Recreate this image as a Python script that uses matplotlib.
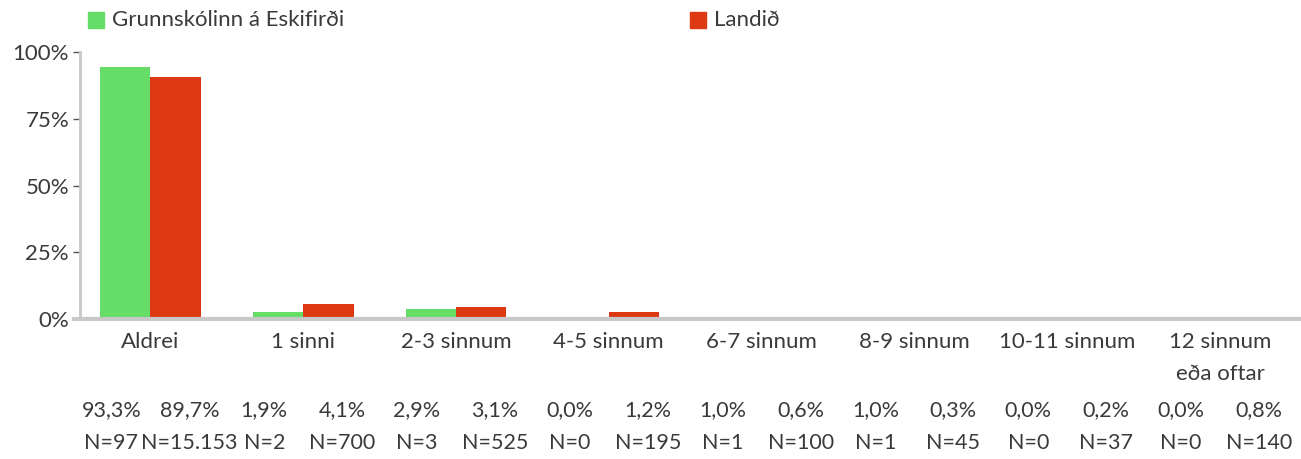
import matplotlib.pyplot as plt
import numpy as np

# flokkar og gildi
categories = ['Aldrei', '1 sinni', '2-3 sinnum', '4-5 sinnum', '6-7 sinnum',
              '8-9 sinnum', '10-11 sinnum', '12 sinnum\neða oftar']
series_names = ['Grunnskólinn á Eskifirði', 'Landið']

# hæð súlna eins og þær sjást á myndinni
school_bars = [94.4, 2.8, 3.7, 0.0, 0.0, 0.0, 0.0, 0.0]
country_bars = [90.6, 5.6, 4.5, 2.5, 0.0, 0.0, 0.0, 0.0]

# texti undir myndinni
school_pct = ['93,3%', '1,9%', '2,9%', '0,0%', '1,0%', '1,0%', '0,0%', '0,0%']
country_pct = ['89,7%', '4,1%', '3,1%', '1,2%', '0,6%', '0,3%', '0,2%', '0,8%']
school_n = ['N=97', 'N=2', 'N=3', 'N=0', 'N=1', 'N=1', 'N=0', 'N=0']
country_n = ['N=15.153', 'N=700', 'N=525', 'N=195', 'N=100', 'N=45', 'N=37', 'N=140']

yticks = [0, 25, 50, 75, 100]
ytick_labels = ['0%', '25%', '50%', '75%', '100%']

green = '#66DD66'
red = '#DD3912'
txt = '#3a3a3a'
axis_grey = '#c8c8c8'
fs = 16
fs_tab = 15.5

plt.rcParams['font.family'] = ['Lato', 'DejaVu Sans']

fig = plt.figure(figsize=(13.01, 4.59), dpi=100)
ax = fig.add_axes([74 / 1301, 1 - 319 / 459, 1227 / 1301, 267 / 459])

x = np.arange(len(categories))
w = 0.33
ax.bar(x - w / 2, school_bars, width=w, color=green, label=series_names[0], zorder=2)
ax.bar(x + w / 2, country_bars, width=w, color=red, label=series_names[1], zorder=2)

ax.set_xlim(-0.5, len(categories) - 0.5 + 0.03)
ax.set_ylim(0, 100)
ax.set_yticks(yticks)
ax.set_yticklabels(ytick_labels)
ax.set_xticks(x)
ax.set_xticklabels(categories, linespacing=1.75)

for s in ['top', 'right']:
    ax.spines[s].set_visible(False)
ax.spines['left'].set_color(axis_grey)
ax.spines['left'].set_linewidth(2)
ax.spines['left'].set_position(('data', -0.46))
ax.spines['bottom'].set_color(axis_grey)
ax.spines['bottom'].set_linewidth(3)
ax.spines['bottom'].set_zorder(3)

ax.tick_params(axis='y', colors=txt, labelsize=fs, length=5, width=1, pad=3)
ax.tick_params(axis='y', color='#555555')
ax.tick_params(axis='x', colors=txt, labelsize=fs, length=0, pad=9)

# prósentur og fjöldi undir ásnum
off = 0.255
for i in range(len(categories)):
    ax.text(i - off, -34, school_pct[i], ha='center', va='center', fontsize=fs_tab,
            color=txt, clip_on=False)
    ax.text(i + off, -34, country_pct[i], ha='center', va='center', fontsize=fs_tab,
            color=txt, clip_on=False)
    ax.text(i - off, -46.5, school_n[i], ha='center', va='center', fontsize=fs_tab,
            color=txt, clip_on=False)
    ax.text(i + off, -46.5, country_n[i], ha='center', va='center', fontsize=fs_tab,
            color=txt, clip_on=False)

# skýringar efst
fig.patches.append(plt.Rectangle((88 / 1301, 1 - 28 / 459), 16 / 1301, 16 / 459,
                                 transform=fig.transFigure, color=green))
fig.text(112 / 1301, 1 - 20 / 459, series_names[0], fontsize=fs, color=txt, va='center')
fig.patches.append(plt.Rectangle((690 / 1301, 1 - 28 / 459), 16 / 1301, 16 / 459,
                                 transform=fig.transFigure, color=red))
fig.text(714 / 1301, 1 - 20 / 459, series_names[1], fontsize=fs, color=txt, va='center')

fig.savefig('out.png', dpi=100)
